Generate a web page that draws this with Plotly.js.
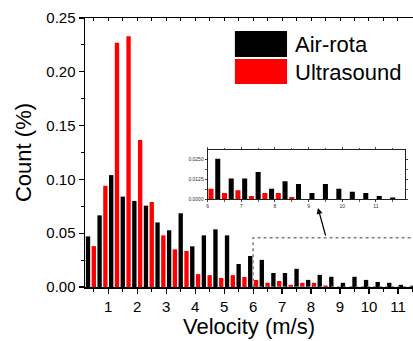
<!DOCTYPE html>
<html>
<head>
<meta charset="utf-8">
<script src="https://cdn.plot.ly/plotly-3.0.1.min.js"></script>
<style>html,body{margin:0;padding:0;background:#fff;}#chart{width:413px;height:341px;}</style>
</head>
<body>
<div id="chart"></div>
<script>
// Velocity bin centres (m/s)
const velocityBins = [0.4,0.8,1.2,1.6,2.0,2.4,2.8,3.2,3.6,4.0,4.4,4.8,5.2,5.6,6.0,6.4,6.8,7.2,7.6,8.0,8.4,8.8,9.2,9.6,10.0,10.4,10.8,11.2,11.6];
// Count (%) for each series
const airRota = [0.047,0.0666,0.104,0.084,0.080,0.0756,0.060,0.0527,0.0685,0.0378,0.048,0.0536,0.048,0.0214,0.0288,0.0252,0.0130,0.0130,0.0169,0.0066,0.0113,0.0095,0.0039,0.0095,0.0066,0.0047,0.0039,0.0020,0.0012];
const ultrasound = [0.038,0.094,0.227,0.233,0.1366,0.079,0.048,0.035,0.0335,0.012,0.011,0.0084,0.011,0.0093,0.0066,0.0039,0.0056,0.0020,0.0039,0.0039,0.0014,0,0,0,0,0,0,0,0];
const seriesNames = ["Air-rota","Ultrasound"];
const seriesColors = ["#000000","#ff0000"];
const xTickVals = [1,2,3,4,5,6,7,8,9,10,11];
const yTickVals = [0,0.05,0.10,0.15,0.20,0.25];
const insetXTicks = [6,7,8,9,10,11];
const insetYTicks = [0,0.0125,0.025];
const zoomBoxX = [6, 11.7];
const zoomBoxY = [0, 0.0458];

const FONT = "Liberation Sans, Arial, sans-serif";

function barTrace(vals, i, xa, ya, show) {
  return {
    type: 'bar', x: velocityBins, y: vals, name: seriesNames[i],
    marker: {color: seriesColors[i], line: {width: 0}},
    xaxis: xa, yaxis: ya, showlegend: false, hoverinfo: 'skip'
  };
}

const data = [
  barTrace(airRota, 0, 'x', 'y'),
  barTrace(ultrasound, 1, 'x', 'y'),
  barTrace(airRota, 0, 'x2', 'y2'),
  barTrace(ultrasound, 1, 'x2', 'y2'),
  {type:'scatter', x: [], y: [], xaxis:'x3', yaxis:'y', showlegend:false}
];

const layout = {
  width: 413, height: 341,
  margin: {l: 85, r: 0, t: 18, b: 54},
  paper_bgcolor: '#fff', plot_bgcolor: '#fff',
  barmode: 'group', bargap: 0, bargroupgap: 0.25,
  showlegend: false,
  font: {family: FONT, color: '#000'},
  xaxis: {
    range: [0.196, 11.52], domain: [0, 1],
    tickvals: xTickVals, ticks: 'outside', ticklen: 5, tickwidth: 1.2, tickcolor: '#000',
    minor: {dtick: 0.5, tick0: 0, ticks: 'outside', ticklen: 3, tickcolor: '#000', tickwidth: 1},
    showline: true, linecolor: '#000', linewidth: 1.5,
    showgrid: false, zeroline: false,
    tickfont: {size: 15, family: FONT},
    title: {text: 'Velocity (m/s)', font: {size: 22, family: FONT}, standoff: 4},
    fixedrange: true
  },
  xaxis3: {
    overlaying: 'x', side: 'top', anchor: 'y', matches: 'x',
    range: [0.196, 11.52],
    dtick: 0.5, tick0: 0, ticks: 'inside', ticklen: 3, tickcolor: '#000', tickwidth: 1,
    showticklabels: false, showline: true, linecolor: '#000', linewidth: 1.5,
    showgrid: false, zeroline: false
  },
  yaxis: {
    range: [0, 0.25], domain: [0, 1],
    tickvals: yTickVals, tickformat: '.2f', ticks: 'outside', ticklen: 5, tickwidth: 1.2, tickcolor: '#000',
    minor: {dtick: 0.025, tick0: 0, ticks: 'outside', ticklen: 3, tickcolor: '#000', tickwidth: 1},
    showline: true, linecolor: '#000', linewidth: 1.5,
    showgrid: false, zeroline: false,
    tickfont: {size: 15, family: FONT},
    title: {text: 'Count (%)', font: {size: 22, family: FONT}, standoff: 8},
    fixedrange: true
  },
  xaxis2: {
    anchor: 'y2', domain: [0.374, 0.976], range: [6, 11.87],
    tickvals: insetXTicks, ticks: 'outside', ticklen: 2, tickcolor: '#333', tickwidth: 0.8,
    minor: {dtick: 0.5, tick0: 0, ticks: 'outside', ticklen: 1.5, tickcolor: '#333'},
    showline: true, mirror: 'ticks', linecolor: '#222', linewidth: 1,
    showgrid: false, zeroline: false,
    tickfont: {size: 5, family: FONT, color: '#333'}
  },
  yaxis2: {
    anchor: 'x2', domain: [0.326, 0.509], range: [0, 0.0306],
    tickvals: insetYTicks, tickformat: '.4f', ticks: 'outside', ticklen: 2, tickcolor: '#333', tickwidth: 0.8,
    minor: {dtick: 0.00625, tick0: 0, ticks: 'outside', ticklen: 1.5, tickcolor: '#333'},
    showline: true, mirror: 'ticks', linecolor: '#222', linewidth: 1,
    showgrid: false, zeroline: false,
    tickfont: {size: 5, family: FONT, color: '#333'}
  },
  shapes: [
    {type: 'rect', xref: 'x', yref: 'y', x0: zoomBoxX[0], x1: zoomBoxX[1], y0: zoomBoxY[0], y1: zoomBoxY[1],
     line: {color: '#808080', width: 1.5, dash: 'dot'}, fillcolor: 'rgba(0,0,0,0)', layer: 'above'},
    {type: 'rect', xref: 'paper', yref: 'paper', x0: 0.457, x1: 0.616, y0: 0.855, y1: 0.952,
     line: {width: 0}, fillcolor: seriesColors[0]},
    {type: 'rect', xref: 'paper', yref: 'paper', x0: 0.457, x1: 0.616, y0: 0.755, y1: 0.848,
     line: {width: 0}, fillcolor: seriesColors[1]}
  ],
  annotations: [
    {xref: 'paper', yref: 'paper', x: 0.634, y: 0.903, xanchor: 'left', yanchor: 'middle',
     text: seriesNames[0], showarrow: false, font: {size: 22, family: FONT, color: '#000'}},
    {xref: 'paper', yref: 'paper', x: 0.634, y: 0.799, xanchor: 'left', yanchor: 'middle',
     text: seriesNames[1], showarrow: false, font: {size: 22, family: FONT, color: '#000'}},
    {xref: 'x', yref: 'y', x: 8.24, y: 0.0734, text: '', showarrow: true,
     ax: 8, ay: 29, arrowhead: 2, arrowsize: 1, arrowwidth: 1.2, arrowcolor: '#000'}
  ]
};

Plotly.newPlot('chart', data, layout, {staticPlot: true, displayModeBar: false});
</script>
</body>
</html>
